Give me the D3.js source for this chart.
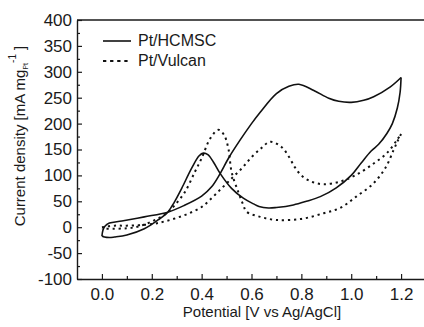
<!DOCTYPE html>
<html lang="en">
<head>
    <meta charset="utf-8">
    <title>CV curves</title>
    <script src="https://d3js.org/d3.v7.min.js"></script>
    <style>
        body { margin: 0; background: #fff; }
        text { font-family: "Liberation Sans", Arial, sans-serif; fill: #1a1a1a; }
    </style>
</head>
<body>

<script>
    // Pt/HCMSC, forward and reverse scans
    const hcmscFwdV = [0.0, 0.004, 0.012, 0.03, 0.08, 0.17, 0.264, 0.33, 0.40, 0.44, 0.47, 0.51, 0.554, 0.60, 0.635, 0.70, 0.75, 0.79, 0.85, 0.91, 0.95, 1.0, 1.05, 1.09, 1.157, 1.2];
    const hcmscFwdI = [-17, -6, 2, 8, 12, 20, 29, 42, 60, 78, 100, 135, 168, 200, 222, 258, 272, 276, 264, 249, 243, 241, 245, 252, 271, 289];
    const hcmscRevV = [1.2, 1.196, 1.185, 1.165, 1.143, 1.11, 1.08, 1.04, 1.0, 0.94, 0.876, 0.82, 0.768, 0.70, 0.668, 0.63, 0.608, 0.567, 0.52, 0.474, 0.447, 0.425, 0.407, 0.39, 0.36, 0.32, 0.29, 0.264, 0.225, 0.17, 0.10, 0.05, 0.03, 0.01, 0.0];
    const hcmscRevI = [289, 260, 230, 200, 181, 160, 147, 124, 100, 76, 59, 50, 43, 38, 37, 40, 45, 56, 75, 104, 126, 140, 143, 138, 114, 75, 48, 29, 14, -3, -15, -19, -20, -19, -17];

    // Pt/Vulcan, forward and reverse scans
    const vulcanFwdV = [0.0, 0.05, 0.1, 0.2, 0.25, 0.3, 0.35, 0.4, 0.44, 0.48, 0.52, 0.56, 0.6, 0.64, 0.675, 0.72, 0.75, 0.775, 0.8, 0.84, 0.89, 0.955, 1.02, 1.09, 1.143, 1.183, 1.2];
    const vulcanFwdI = [0, 3, 3, 6, 11, 18, 27, 39, 56, 75, 94, 113, 135, 153, 165, 155, 136, 115, 100, 88, 83, 88, 101, 123, 143, 168, 180];
    const vulcanRevV = [1.2, 1.185, 1.17, 1.14, 1.09, 1.02, 0.955, 0.89, 0.8, 0.7, 0.635, 0.58, 0.567, 0.547, 0.52, 0.508, 0.49, 0.467, 0.434, 0.40, 0.373, 0.333, 0.293, 0.26, 0.213, 0.17, 0.133, 0.1, 0.05, 0.0];
    const vulcanRevI = [180, 165, 149, 117, 85, 59, 37, 27, 16, 14, 20, 30, 43, 68, 107, 150, 178, 188, 171, 133, 107, 68, 43, 27, 14, 5, 0, -2, -3, -3];

    const xTicks = [0.0, 0.2, 0.4, 0.6, 0.8, 1.0, 1.2];
    const yTicks = [-100, -50, 0, 50, 100, 150, 200, 250, 300, 350, 400];
    const seriesNames = ['Pt/HCMSC', 'Pt/Vulcan'];

    const W = 424, H = 327;
    const mLeft = 77, mRight = 426, mTop = 20, mBottom = 279;

    const svg = d3.select("body").append("svg").attr("width", W).attr("height", H);

    const x = d3.scaleLinear().domain([-0.1, 1.3]).range([mLeft, mRight]);
    const y = d3.scaleLinear().domain([-100, 400]).range([mBottom, mTop]);

    // minor ticks
    svg.append("g").attr("transform", `translate(${mLeft},0)`)
        .call(d3.axisLeft(y).tickValues(d3.range(-75, 400, 50)).tickSize(-3).tickSizeOuter(0).tickFormat(""))
        .call(g => g.select(".domain").remove());
    svg.append("g").attr("transform", `translate(0,${mBottom})`)
        .call(d3.axisBottom(x).tickValues(d3.range(0.1, 1.3, 0.2)).tickSize(-3).tickSizeOuter(0).tickFormat(""))
        .call(g => g.select(".domain").remove());

    svg.append("g").attr("transform", `translate(${mLeft},0)`)
        .call(d3.axisLeft(y).tickValues(yTicks).tickSize(-5).tickSizeOuter(0).tickPadding(5).tickFormat(d => String(d)));
    svg.append("g").attr("transform", `translate(0,${mBottom})`)
        .call(d3.axisBottom(x).tickValues(xTicks).tickSize(-5).tickSizeOuter(0).tickPadding(9).tickFormat(d => d.toFixed(1)));

    svg.selectAll(".tick line").attr("stroke", "#1a1a1a").attr("stroke-width", 1.2);
    svg.selectAll(".tick text").attr("font-size", 17).attr("font-family", "Liberation Sans, Arial, sans-serif").attr("fill", "#1a1a1a");
    svg.selectAll(".domain").attr("stroke", "#1a1a1a").attr("stroke-width", 1.4);

    // top and right frame lines
    svg.append("path")
        .attr("d", `M${mLeft},${mTop}H${mRight}V${mBottom}`)
        .attr("fill", "none").attr("stroke", "#1a1a1a").attr("stroke-width", 1.4);

    // axis titles
    svg.append("text")
        .attr("x", 262).attr("y", 317)
        .attr("text-anchor", "middle").attr("font-size", 15)
        .text("Potential [V vs Ag/AgCl]");

    const yt = svg.append("text")
        .attr("transform", "translate(25,136) rotate(-90)")
        .attr("text-anchor", "middle").attr("font-size", 15);
    yt.append("tspan").text("Current density [mA mg");
    yt.append("tspan").attr("font-size", 7).attr("dy", 3).text("Pt");
    yt.append("tspan").attr("font-size", 10).attr("dy", -12).text("-1");
    yt.append("tspan").attr("dy", 9).text(" ]");

    const line = d3.line()
        .x(d => x(d[0]))
        .y(d => y(d[1]))
        .curve(d3.curveCatmullRom.alpha(0.5));

    const zip = (a, b) => a.map((v, i) => [v, b[i]]);

    const curves = [
        {data: zip(hcmscFwdV, hcmscFwdI), dash: null},
        {data: zip(hcmscRevV, hcmscRevI), dash: null},
        {data: zip(vulcanFwdV, vulcanFwdI), dash: "2.2,3.8"},
        {data: zip(vulcanRevV, vulcanRevI), dash: "2.2,3.8"}
    ];

    svg.append("g").selectAll("path")
        .data(curves).enter()
        .append("path")
        .attr("d", d => line(d.data))
        .attr("fill", "none")
        .attr("stroke", "#111")
        .attr("stroke-width", d => d.dash ? 2 : 1.6)
        .attr("stroke-dasharray", d => d.dash);

    // legend
    const legend = svg.append("g");
    seriesNames.forEach((name, i) => {
        legend.append("line")
            .attr("x1", 103).attr("x2", 131)
            .attr("y1", 41 + i * 20).attr("y2", 41 + i * 20)
            .attr("stroke", "#111")
            .attr("stroke-width", i ? 2 : 1.6)
            .attr("stroke-dasharray", i ? "3.3,3.8" : null);
        legend.append("text")
            .attr("x", 138).attr("y", 46 + i * 20)
            .attr("font-size", 16)
            .text(name);
    });
</script>

</body>
</html>
